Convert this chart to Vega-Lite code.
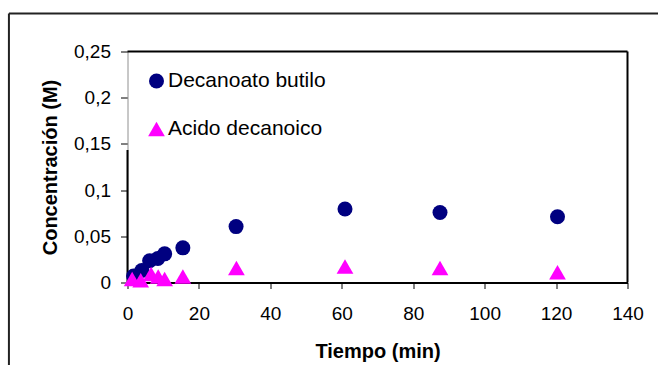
{
  "$schema": "https://vega.github.io/schema/vega-lite/v6.json",
  "autosize": "none",
  "width": 500,
  "height": 231,
  "padding": {"left": 127.5, "top": 51.5, "right": 30.5, "bottom": 82.5},
  "background": "white",
  "config": {
    "view": {"stroke": null},
    "font": "Liberation Sans"
  },
  "datasets": {
    "one": [{}],
    "pts": [
      {"t": 1.7, "c": 0.007, "serie": "Decanoato butilo"},
      {"t": 4.0, "c": 0.013, "serie": "Decanoato butilo"},
      {"t": 6.2, "c": 0.0235, "serie": "Decanoato butilo"},
      {"t": 8.5, "c": 0.026, "serie": "Decanoato butilo"},
      {"t": 10.4, "c": 0.031, "serie": "Decanoato butilo"},
      {"t": 15.5, "c": 0.0375, "serie": "Decanoato butilo"},
      {"t": 30.4, "c": 0.0605, "serie": "Decanoato butilo"},
      {"t": 60.9, "c": 0.0795, "serie": "Decanoato butilo"},
      {"t": 87.5, "c": 0.0758, "serie": "Decanoato butilo"},
      {"t": 120.4, "c": 0.0711, "serie": "Decanoato butilo"},
      {"t": 1.3, "c": 0.0038, "serie": "Acido decanoico"},
      {"t": 3.7, "c": 0.0024, "serie": "Acido decanoico"},
      {"t": 6.6, "c": 0.0092, "serie": "Acido decanoico"},
      {"t": 8.6, "c": 0.0064, "serie": "Acido decanoico"},
      {"t": 10.4, "c": 0.0038, "serie": "Acido decanoico"},
      {"t": 15.5, "c": 0.0064, "serie": "Acido decanoico"},
      {"t": 30.5, "c": 0.0157, "serie": "Acido decanoico"},
      {"t": 60.9, "c": 0.0172, "serie": "Acido decanoico"},
      {"t": 87.5, "c": 0.0157, "serie": "Acido decanoico"},
      {"t": 120.4, "c": 0.011, "serie": "Acido decanoico"}
    ]
  },
  "layer": [
    {
      "data": {"name": "one"},
      "mark": {"type": "rule", "stroke": "#222", "strokeWidth": 2},
      "encoding": {
        "x": {"datum": -33.2, "type": "quantitative"},
        "x2": {"datum": 150},
        "y": {"datum": 0.2911, "type": "quantitative"}
      }
    },
    {
      "data": {"name": "one"},
      "mark": {"type": "rule", "stroke": "#222", "strokeWidth": 2},
      "encoding": {
        "x": {"datum": -33.2, "type": "quantitative"},
        "y": {"datum": 0.2911, "type": "quantitative"},
        "y2": {"datum": -0.12}
      }
    },
    {
      "data": {"name": "one"},
      "mark": {"type": "rule", "stroke": "#000", "strokeWidth": 2},
      "encoding": {
        "x": {"datum": 0, "type": "quantitative"},
        "x2": {"datum": 140},
        "y": {"datum": 0.25, "type": "quantitative"}
      }
    },
    {
      "data": {"name": "one"},
      "mark": {"type": "rule", "stroke": "#000", "strokeWidth": 2},
      "encoding": {
        "x": {"datum": 140, "type": "quantitative"},
        "y": {"datum": 0, "type": "quantitative"},
        "y2": {"datum": 0.25}
      }
    },
    {
      "data": {"name": "one"},
      "mark": {"type": "rule", "stroke": "#000", "strokeWidth": 2},
      "encoding": {
        "x": {"datum": 0, "type": "quantitative"},
        "y": {"datum": 0, "type": "quantitative"},
        "y2": {"datum": 0.1434}
      }
    },
    {
      "data": {"name": "pts"},
      "mark": {"type": "point", "filled": true, "opacity": 1},
      "encoding": {
        "x": {
          "field": "t",
          "type": "quantitative",
          "scale": {"domain": [0, 140], "nice": false, "zero": false},
          "axis": {
            "values": [0, 20, 40, 60, 80, 100, 120, 140],
            "title": "Tiempo (min)",
            "titleFontSize": 20,
            "titleFontWeight": "bold",
            "titleColor": "#000",
            "titlePadding": 18,
            "labelFontSize": 19,
            "labelColor": "#000",
            "labelPadding": 16,
            "labelFlush": false,
            "labelOverlap": false,
            "tickSize": 6,
            "tickColor": "#000",
            "tickWidth": 1,
            "domainColor": "#000",
            "domainWidth": 2,
            "grid": false
          }
        },
        "y": {
          "field": "c",
          "type": "quantitative",
          "scale": {"domain": [0, 0.25], "nice": false, "zero": false},
          "axis": {
            "values": [0, 0.05, 0.1, 0.15, 0.2, 0.25],
            "labelExpr": "replace(format(datum.value, '.2~f'), '.', ',')",
            "title": "Concentración (M)",
            "titleFontSize": 20,
            "titleFontWeight": "bold",
            "titleColor": "#000",
            "titlePadding": 13,
            "labelFontSize": 19,
            "labelColor": "#000",
            "labelPadding": 10,
            "labelFlush": false,
            "labelOverlap": false,
            "tickSize": 7,
            "tickColor": "#000",
            "tickWidth": 1,
            "domainColor": "#909090",
            "domainWidth": 1,
            "grid": false
          }
        },
        "color": {
          "field": "serie",
          "type": "nominal",
          "scale": {"domain": ["Decanoato butilo", "Acido decanoico"], "range": ["#000080", "#FF00FF"]},
          "legend": {
            "orient": "none",
            "legendX": 18.5,
            "legendY": 19,
            "title": null,
            "padding": 0,
            "labelFontSize": 21,
            "labelColor": "#000",
            "labelOffset": 1,
            "rowPadding": 26,
            "symbolOpacity": 1,
            "symbolStrokeWidth": 0
          }
        },
        "shape": {
          "field": "serie",
          "type": "nominal",
          "scale": {"domain": ["Decanoato butilo", "Acido decanoico"], "range": ["circle", "triangle-up"]}
        },
        "size": {
          "field": "serie",
          "type": "nominal",
          "scale": {"domain": ["Decanoato butilo", "Acido decanoico"], "range": [225, 280]}
        }
      }
    }
  ]
}
